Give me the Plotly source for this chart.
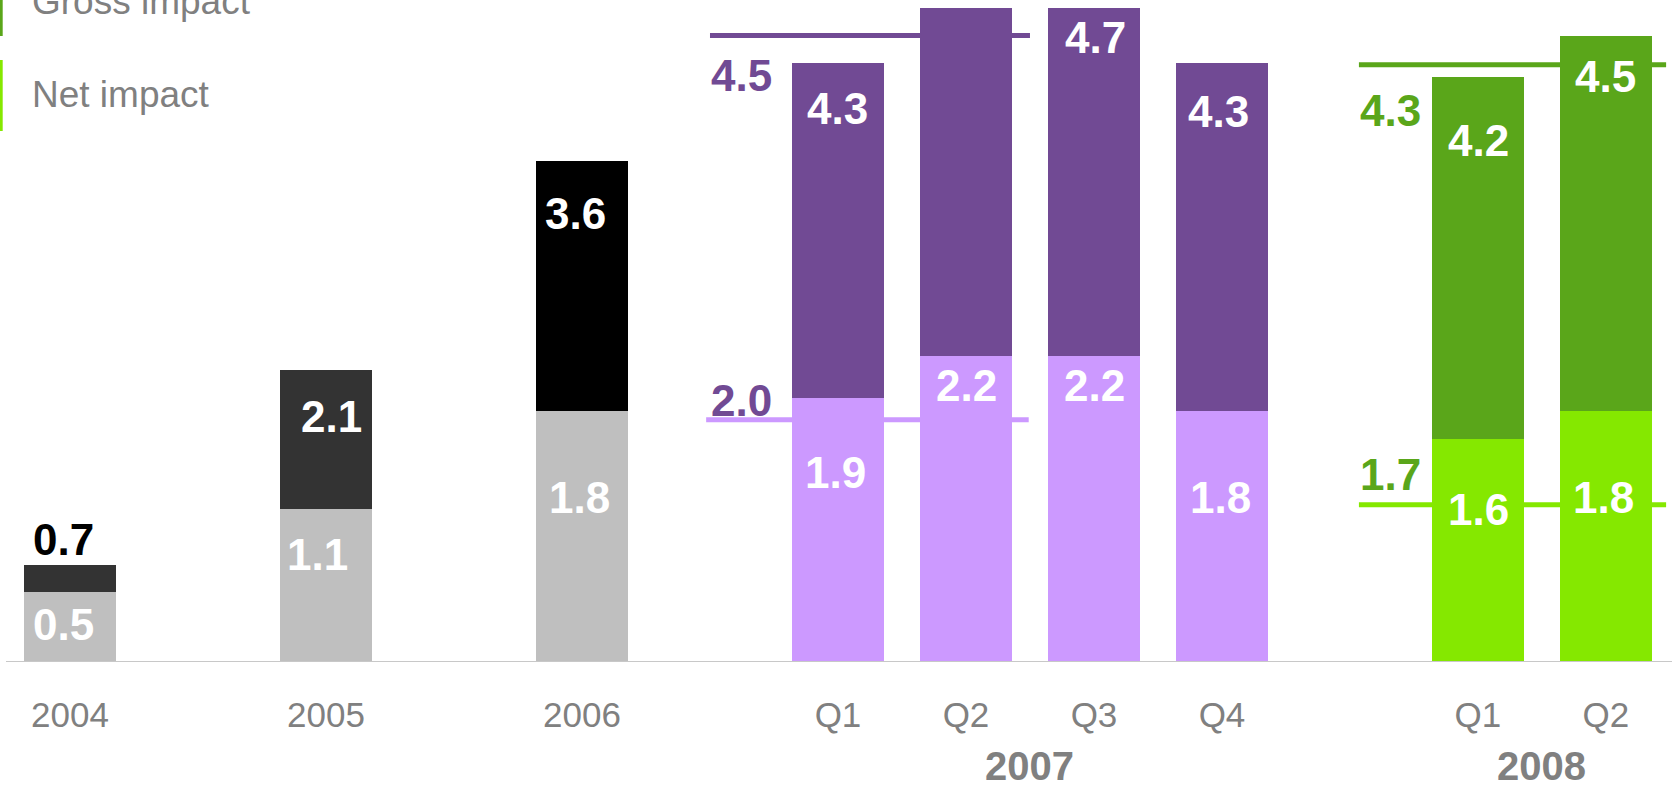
import plotly.graph_objects as go

# ---------------- data ----------------
categories = ["2004", "2005", "2006", "Q1", "Q2", "Q3", "Q4", "Q1", "Q2"]
slots = [0, 2, 4, 6, 7, 8, 9, 11, 12]          # category positions on the x axis
net_values = [0.5, 1.1, 1.8, 1.9, 2.2, 2.2, 1.8, 1.6, 1.8]
total_values = [0.7, 2.1, 3.6, 4.3, 4.7, 4.7, 4.3, 4.2, 4.5]
gross_labels = ["0.7", "2.1", "3.6", "4.3", "", "4.7", "4.3", "4.2", "4.5"]
net_labels = ["0.5", "1.1", "1.8", "1.9", "2.2", "2.2", "1.8", "1.6", "1.8"]

year_groups = ["2007", "2008"]
year_group_centers = [7.5, 11.5]

# reference lines: (value, label)
ref_line_values = [4.5, 1.74, 4.29, 1.13]
ref_line_labels = ["4.5", "2.0", "4.3", "1.7"]

legend_labels = ["Gross impact", "Net impact"]

# ---------------- styles ----------------
FONT = "Liberation Sans, Arial, sans-serif"
GRAY_TXT = "#808080"
net_colors = ["#BFBFBF"] * 3 + ["#CC99FF"] * 4 + ["#85E800"] * 2
gross_colors = ["#333333", "#333333", "#000000"] + ["#714A94"] * 4 + ["#5AA61A"] * 2
gross_label_colors = ["#000000"] + ["#FFFFFF"] * 8

# label pixel offsets relative to segment tops
gross_label_dy = [25, -47, -53, -45, 0, -30, -48, -63, -41]
gross_label_dx = [-7, 5, -6, 0, 0, 2, -3, 1, 0]
net_label_dy = [-32, -46, -86, -75, -30, -30, -86, -70, -86]
net_label_dx = [-7, -9, -2, -2, 1, 1, -1, 1, -2]

ref_line_x = [(5.0, 7.5), (4.97, 7.49), (10.07, 12.47), (10.07, 12.47)]
ref_line_colors = ["#714A94", "#CC99FF", "#5AA61A", "#85E800"]
ref_label_colors = ["#714A94", "#714A94", "#5AA61A", "#5AA61A"]
ref_label_x = [5.25, 5.25, 10.32, 10.32]
ref_label_dy = [-39.5, 19, -46, 30]

gross_seg = [round(t - n, 3) for t, n in zip(total_values, net_values)]

fig = go.Figure()
fig.add_trace(go.Bar(x=slots, y=net_values, marker=dict(color=net_colors, line=dict(width=0)),
                     width=0.72, hoverinfo="skip", showlegend=False))
fig.add_trace(go.Bar(x=slots, y=gross_seg, base=net_values,
                     marker=dict(color=gross_colors, line=dict(width=0)),
                     width=0.72, hoverinfo="skip", showlegend=False))

annotations = []
for i, s in enumerate(slots):
    if gross_labels[i]:
        annotations.append(dict(x=s, y=total_values[i], xref="x", yref="y", text=gross_labels[i],
                                showarrow=False, xanchor="center", yanchor="middle",
                                xshift=gross_label_dx[i], yshift=gross_label_dy[i],
                                font=dict(family=FONT, size=44, color=gross_label_colors[i], weight="bold")))
    annotations.append(dict(x=s, y=net_values[i], xref="x", yref="y", text=net_labels[i],
                            showarrow=False, xanchor="center", yanchor="middle",
                            xshift=net_label_dx[i], yshift=net_label_dy[i],
                            font=dict(family=FONT, size=44, color="#FFFFFF", weight="bold")))

shapes = []
for (x0, x1), v, c in zip(ref_line_x, ref_line_values, ref_line_colors):
    shapes.append(dict(type="line", xref="x", yref="y", x0=x0, x1=x1, y0=v, y1=v,
                       line=dict(color=c, width=5), layer="below"))
for lx, v, t, c, dy in zip(ref_label_x, ref_line_values, ref_line_labels, ref_label_colors, ref_label_dy):
    annotations.append(dict(x=lx, y=v, xref="x", yref="y", text=t, showarrow=False,
                            xanchor="center", yanchor="middle", yshift=dy,
                            font=dict(family=FONT, size=44, color=c, weight="bold")))

PLOT_H = 662
# baseline
shapes.append(dict(type="line", xref="paper", yref="y", x0=6 / 1672, x1=1, y0=0, y1=0,
                   line=dict(color="#C8C8C8", width=2), layer="above"))

# year group labels
for name, cx in zip(year_groups, year_group_centers):
    annotations.append(dict(x=cx, y=-104 / PLOT_H, xref="x", yref="paper", text=name, showarrow=False,
                            xanchor="center", yanchor="middle",
                            font=dict(family=FONT, size=40, color=GRAY_TXT, weight="bold")))

# legend
legend_colors = ["#5AA61A", "#85E800"]
legend_bar_px = [(-20, 36), (60, 131)]
legend_text_center_px = [2, 95]
for lab, col, (p0, p1), tc in zip(legend_labels, legend_colors, legend_bar_px, legend_text_center_px):
    shapes.append(dict(type="rect", xref="paper", yref="paper", x0=0, x1=2.7 / 1672,
                       y0=1 - p1 / PLOT_H, y1=1 - p0 / PLOT_H, fillcolor=col, line=dict(width=0)))
    annotations.append(dict(x=30 / 1672, y=1 - tc / PLOT_H, xref="paper", yref="paper", text=lab,
                            showarrow=False, xanchor="left", yanchor="middle",
                            font=dict(family=FONT, size=37, color=GRAY_TXT)))

fig.update_layout(
    width=1672, height=788, autosize=False,
    margin=dict(l=0, r=0, t=0, b=788 - PLOT_H, pad=0),
    paper_bgcolor="white", plot_bgcolor="white",
    barmode="overlay", bargap=0,
    showlegend=False,
    xaxis=dict(range=[-0.547, 12.516], tickvals=slots, ticktext=categories, showgrid=False,
               zeroline=False, showline=False, ticks="", ticklabelstandoff=29,
               tickfont=dict(family=FONT, size=35, color=GRAY_TXT), fixedrange=True),
    yaxis=dict(range=[0, PLOT_H / 139.2], showgrid=False, zeroline=False, showline=False,
               showticklabels=False, ticks="", fixedrange=True),
    shapes=shapes, annotations=annotations,
)

fig.write_html("out.html", config={"displayModeBar": False})
